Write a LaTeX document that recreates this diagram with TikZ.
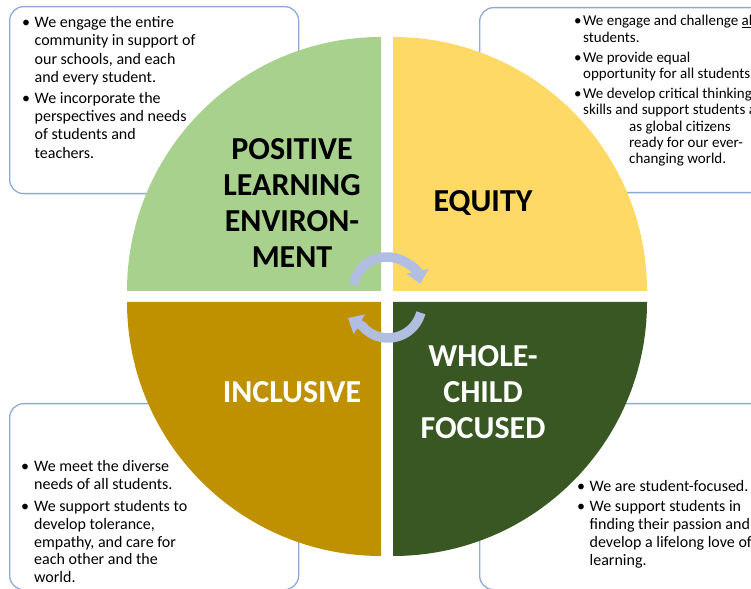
\documentclass[tikz,border=0pt]{standalone}
\usepackage{fontspec}
\setmainfont{Carlito}
\usepackage{tikz}
\usetikzlibrary{arrows.meta, positioning}
\definecolor{LeafGreen}{HTML}{A9D18E}
\definecolor{SunYellow}{HTML}{FFD966}
\definecolor{DarkGold}{HTML}{BF9000}
\definecolor{ForestGreen}{HTML}{385723}
\definecolor{FrameBlue}{HTML}{8EAADB}
\definecolor{CycleBlue}{HTML}{B1BEE2}

\begin{document}
\begin{tikzpicture}[x=1pt, y=1pt,
    infobox/.style={draw=FrameBlue, line width=1.3pt, rounded corners=14pt,
                    fill=white, anchor=north west, inner sep=0pt},
    listtext/.style={anchor=base west, inner sep=0pt, align=left},
    bigword/.style={align=center, inner sep=0pt,
                    font=\fontsize{32}{36}\selectfont\bfseries},
    cyclearrow/.style={line width=9.5pt, draw=CycleBlue,
                       -{Triangle[length=13pt, width=22pt]}}]
\clip (0,0) rectangle (751,588);

% text boxes behind the wheel
\node[infobox, minimum width=289pt, minimum height=187pt] (tlBox) at (9,582) {};
\node[infobox, minimum width=290pt, minimum height=185pt] (trBox) at (479,581) {};
\node[infobox, minimum width=289pt, minimum height=186pt] (blBox) at (9,185) {};
\node[infobox, minimum width=290pt, minimum height=186pt] (brBox) at (479,185) {};

% the four quarters
\fill[LeafGreen]   (381,297) -- ++(-254,0) arc[start angle=180, end angle=90, radius=254pt] -- cycle;
\fill[SunYellow]   (393,297) -- ++(0,254) arc[start angle=90, end angle=0, radius=254pt] -- cycle;
\fill[DarkGold]    (381,286) -- ++(0,-254) arc[start angle=270, end angle=180, radius=254pt] -- cycle;
\fill[ForestGreen] (393,286) -- ++(254,0) arc[start angle=0, end angle=-90, radius=254pt] -- cycle;

% cycle arrows
\coordinate (hubTop) at (387,297);
\coordinate (hubLow) at (388,284);
\coordinate (tipLow) at (348,270);
\draw[cyclearrow] ([shift={(170:34pt)}]hubTop) arc[start angle=170, end angle=12, radius=34pt];
\draw[cyclearrow] ([shift={(-15:34pt)}]hubLow) arc[start angle=-15, end angle=-140, radius=34pt] -- (tipLow);

% labels
\node[bigword] (learning) at (292,385) {POSITIVE\\LEARNING\\ENVIRON-\\MENT};
\node[bigword] (equity) at (483,385) {EQUITY};
\node[bigword, text=white] (inclusive) at (292,196) {INCLUSIVE};
\node[bigword, text=white] (wholechild) at (483,196) {WHOLE-\\CHILD\\FOCUSED};

% statements
\node[listtext, font=\fontsize{16}{18.3}\selectfont] (tlText) at (22,560.5) {%
\begin{tabular}[t]{@{}l@{\hspace{4.5pt}}l@{}}
\textbullet & We engage the entire\\
 & community in support of\\
 & our schools, and each\\
 & and every student.\\[2.7pt]
\textbullet & We incorporate the\\
 & perspectives and needs\\
 & of students and\\
 & teachers.
\end{tabular}};

\node[listtext, font=\fontsize{15}{16.3}\selectfont] (trText) at (574,562) {%
\begin{tabular}[t]{@{}l@{\hspace{1.5pt}}l@{}}
\textbullet & We engage and challenge \underline{all}\\
 & students.\\[3.7pt]
\textbullet & We provide equal\\
 & opportunity for all students.\\[3.7pt]
\textbullet & We develop critical thinking\\
 & skills and support students as\\
 & \hspace*{46pt}as global citizens\\
 & \hspace*{46pt}ready for our ever-\\
 & \hspace*{46pt}changing world.
\end{tabular}};

\node[listtext, font=\fontsize{16}{17.8}\selectfont] (blText) at (21,116) {%
\begin{tabular}[t]{@{}l@{\hspace{5pt}}l@{}}
\textbullet & We meet the diverse\\
 & needs of all students.\\[4pt]
\textbullet & We support students to\\
 & develop tolerance,\\
 & empathy, and care for\\
 & each other and the\\
 & world.
\end{tabular}};

\node[listtext, font=\fontsize{16}{18}\selectfont] (brText) at (577,96) {%
\begin{tabular}[t]{@{}l@{\hspace{4.5pt}}l@{}}
\textbullet & We are student-focused.\\[2pt]
\textbullet & We support students in\\
 & finding their passion and\\
 & develop a lifelong love of\\
 & learning.
\end{tabular}};
\end{tikzpicture}
\end{document}
